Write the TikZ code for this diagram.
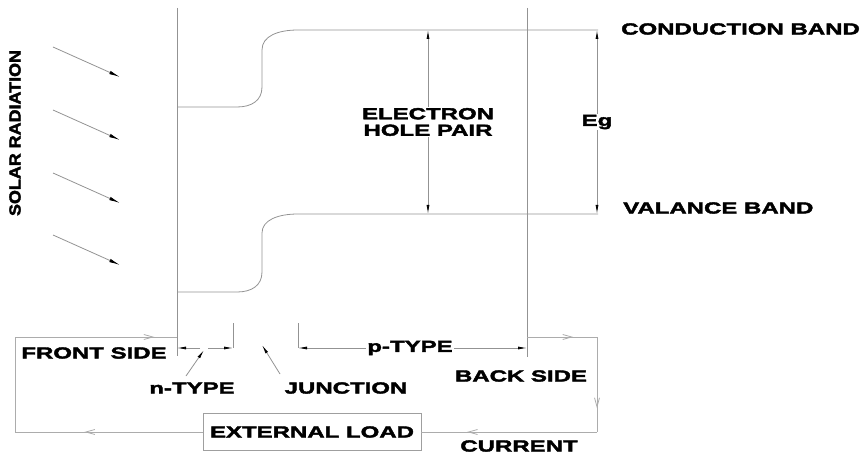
\documentclass[tikz,border=0pt]{standalone}
\usepackage{fontspec}
\setmainfont{Liberation Sans}
\newfontfamily\lblfont[FakeStretch=1.5, FakeBold=2.5]{Liberation Sans}
\newfontfamily\solarfont[FakeStretch=1.12, FakeBold=2.5]{Liberation Sans}
\usetikzlibrary{arrows.meta,decorations.markings}

\tikzset{
  band/.style={draw=gray!85, line width=0.8pt},
  wire/.style={draw=gray!65, line width=0.8pt},
  lbl/.style={font=\lblfont\bfseries\fontsize{16}{16.5}\selectfont, inner sep=1pt, align=center},
  flow/.style={postaction={decorate}, decoration={markings,
      mark=at position #1 with {\arrow{Straight Barb[length=9pt,width=5pt,color=gray!65]}}}},
}

\begin{document}
\begin{tikzpicture}[x=1pt, y=-1pt, >={Latex[length=9pt,width=3pt,color=black]}]
    \useasboundingbox (0,0) rectangle (861,454);

    % Front and back side of the cell
    \coordinate (fronttop) at (177,8);
    \coordinate (frontbot) at (177,356);
    \coordinate (backtop) at (527,8);
    \coordinate (backbot) at (527,357);
    \draw[band] (fronttop) -- (frontbot);
    \draw[band] (backtop) -- (backbot);

    % Conduction band
    \coordinate (cbend) at (598,30);
    \draw[band] (177,107) -- (237,107) .. controls (251,107) and (262,101) .. (262,87)
        -- (262,50) .. controls (262,36) and (278,30) .. (298,30) -- (cbend);

    % Valance band
    \coordinate (vbend) at (598,214);
    \draw[band] (177,292) -- (237,292) .. controls (251,292) and (262,286) .. (262,272)
        -- (262,233) .. controls (262,220) and (278,214) .. (298,214) -- (vbend);

    \node[lbl, anchor=west] (cblabel) at (620,29) {CONDUCTION BAND};
    \node[lbl, anchor=west] (vblabel) at (622,208) {VALANCE BAND};

    % Electron hole pair and Eg
    \coordinate (ehtop) at (428,30);
    \coordinate (ehbot) at (428,214);
    \draw[band, <->] (ehtop) -- (ehbot);
    \node[lbl, fill=white] (ehp) at (428,122) {ELECTRON\\HOLE PAIR};
    \coordinate (egtop) at (597,30);
    \coordinate (egbot) at (597,214);
    \draw[band, <->] (egtop) -- (egbot);
    \node[lbl, fill=white] (eg) at (597,122) {Eg};

    % Solar radiation
    \node[font=\solarfont\bfseries\fontsize{16}{16.5}\selectfont, rotate=90] (solar) at (15,133) {SOLAR RADIATION};
    \foreach \y in {47,110,173,235}
        \draw[band, ->, >={Latex[length=11pt,width=3.5pt,color=black]}] (53,\y) -- (120,\y+30);

    % n-type and p-type regions
    \coordinate (nend) at (233,348);
    \coordinate (pstart) at (298,348);
    \draw[band] (233,323) -- (nend);
    \draw[band] (298,323) -- (pstart);
    \draw[band, ->] (200,348) -- (177,348);
    \draw[band, ->] (208,348) -- (nend);
    \draw[band, <->] (pstart) -- (527,348);
    \node[lbl, fill=white] (ptype) at (410,348) {p-TYPE};

    \node[lbl] (ntype) at (192,388) {n-TYPE};
    \node[lbl] (junction) at (346,388) {JUNCTION};
    \coordinate (ntip) at (204,350);
    \coordinate (jtip) at (262,345);
    \draw[band, ->] (186,376) -- (ntip);
    \draw[band, ->] (280,374) -- (jtip);

    \node[lbl] (front) at (94,353) {FRONT SIDE};
    \node[lbl] (back) at (521,376) {BACK SIDE};
    \node[lbl] (current) at (519,446) {CURRENT};

    % External circuit
    \node[lbl, draw=gray!75, line width=0.8pt, minimum width=218pt, minimum height=37pt] (load) at (312,432) {EXTERNAL LOAD};
    \coordinate (frontc) at (177,337);
    \coordinate (backc) at (527,337);
    \coordinate (lt) at (15,337);
    \coordinate (lb) at (15,432);
    \coordinate (rt) at (597,337);
    \coordinate (rb) at (597,432);
    \draw[wire, flow=0.86] (lt) -- (frontc);
    \draw[wire] (lt) -- (lb);
    \draw[wire, flow=0.63] (load.west) -- (lb);
    \draw[wire, flow=0.74] (rb) -- (load.east);
    \draw[wire, flow=0.75] (rt) -- (rb);
    \draw[wire, flow=0.66] (backc) -- (rt);
\end{tikzpicture}
\end{document}
